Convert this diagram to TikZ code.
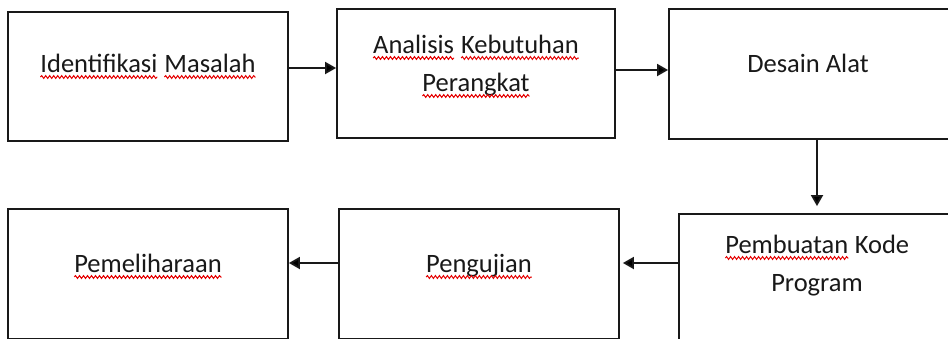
\documentclass[tikz,border=0pt]{standalone}
\usepackage{fontspec}
\setmainfont{Carlito}
\usetikzlibrary{arrows.meta,decorations.pathmorphing}
% word with a red spell-check wave beneath it
\newcommand\spell[1]{\tikz[baseline=(sw.base),x=1pt,y=1pt]{%
  \node[inner sep=0pt,outer sep=0pt,anchor=base] (sw) at (0,0) {#1};%
  \draw[red!90!black,line width=1pt,decorate,
        decoration={snake,amplitude=1.4pt,segment length=4pt}]
    ([yshift=-5pt]sw.base west) -- ([yshift=-5pt]sw.base east);}}

\begin{document}
\begin{tikzpicture}[x=1pt,y=-1pt,
  box/.style={draw=black!90, line width=1.8pt, inner sep=0pt, fill=white},
  lbl/.style={font=\fontsize{26.5}{38}\selectfont, text=black!90, align=center, inner sep=0pt},
  arr/.style={draw=black!90, line width=1.8pt, -{Triangle[length=11pt,width=12pt]}}]
\useasboundingbox (0,0) rectangle (948,338);
\clip (0,0) rectangle (948,338);

% boxes
\node[box, minimum width=280pt, minimum height=129pt] (b1) at (148,76.5) {};
\node[box, minimum width=278pt, minimum height=129pt] (b2) at (476,73.5) {};
\node[box, minimum width=281pt, minimum height=130pt] (b3) at (809.5,74) {};
\node[box, minimum width=280pt, minimum height=130pt] (b4) at (148,274) {};
\node[box, minimum width=280pt, minimum height=130pt] (b5) at (479,274) {};
\node[box, minimum width=276pt, minimum height=129pt] (b6) at (817,278.5) {};

% labels
\node[lbl, anchor=base] (t1) at (148,72) {\spell{Identifikasi} \spell{Masalah}};
\node[lbl, anchor=base] (t2) at (476,91) {\spell{Analisis} \spell{Kebutuhan}\\\spell{Perangkat}};
\node[lbl, anchor=base] (t3) at (808,72) {Desain Alat};
\node[lbl, anchor=base] (t4) at (148,272) {\spell{Pemeliharaan}};
\node[lbl, anchor=base] (t5) at (479,272) {\spell{Pengujian}};
\node[lbl, anchor=base] (t6) at (817,291) {\spell{Pembuatan} Kode\\Program};

% connectors
\draw[arr] ([yshift=8.5pt]b1.east) -- ([yshift=5.5pt]b2.west);
\draw[arr] ([yshift=3.5pt]b2.east) -- ([yshift=4pt]b3.west);
\draw[arr, shorten >=7pt] ([xshift=7.5pt]b3.south) -- (b6.north);
\draw[arr, shorten >=3pt] ([yshift=15.5pt]b6.west) -- ([yshift=11pt]b5.east);
\draw[arr] ([yshift=11pt]b5.west) -- ([yshift=11pt]b4.east);
\end{tikzpicture}
\end{document}
